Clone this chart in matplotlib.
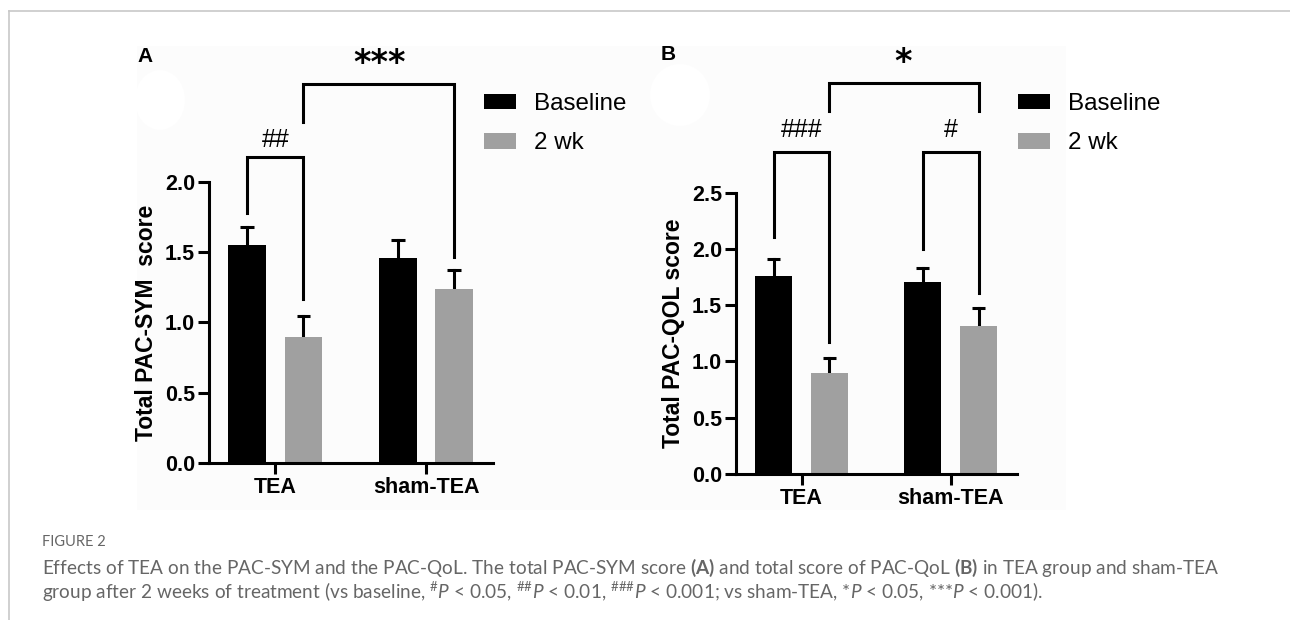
import numpy as np
import matplotlib
matplotlib.use("Agg")
import matplotlib.pyplot as plt
from matplotlib.patches import Rectangle, Ellipse

# ---- data ----
groups = ["TEA", "sham-TEA"]
series = ["Baseline", "2 wk"]

sym_base = [1.55, 1.46]
sym_base_err = [0.13, 0.127]
sym_2wk = [0.90, 1.24]
sym_2wk_err = [0.147, 0.135]

qol_base = [1.76, 1.71]
qol_base_err = [0.15, 0.12]
qol_2wk = [0.895, 1.316]
qol_2wk_err = [0.133, 0.157]

colors = ["#000000", "#a0a0a0"]

plt.rcParams["font.family"] = ["Liberation Sans", "DejaVu Sans"]
plt.rcParams["mathtext.fontset"] = "custom"
plt.rcParams["mathtext.rm"] = "Lato"
plt.rcParams["mathtext.it"] = "Lato:italic"
plt.rcParams["mathtext.bf"] = "Lato:bold"

W, H = 1290, 620
fig = plt.figure(figsize=(W / 100, H / 100), dpi=100)


def fx(px):
    return px / W


def fy(py):
    return 1 - py / H


# page frame lines and the faint image backdrop
fig.add_artist(plt.Line2D([fx(9), 1], [fy(11), fy(11)], color="#c8c8c8", lw=1.2))
fig.add_artist(plt.Line2D([fx(9), fx(9)], [fy(11), 0], color="#c8c8c8", lw=1.2))
fig.add_artist(Rectangle((fx(137), fy(510)), fx(1066) - fx(137), fy(46) - fy(510),
                         facecolor="#fcfcfc", edgecolor="none", zorder=0))
fig.add_artist(Ellipse((fx(160), fy(100)), fx(50), 60 / H, facecolor="white", edgecolor="none", zorder=0))
fig.add_artist(Ellipse((fx(680), fy(95)), fx(60), 62 / H, facecolor="white", edgecolor="none", zorder=0))

x = np.arange(len(groups))
bw = 0.25
off = 0.187
LW = 2.2
TICK_FS = 15.5


def up_errors(ax, xs, vals, errs):
    # one-sided (upward) error bars with a cap
    for xi, v, e in zip(xs, vals, errs):
        ax.plot([xi, xi], [v, v + e], color="black", lw=LW, zorder=1)
        ax.plot([xi - 0.045, xi + 0.045], [v + e, v + e], color="black", lw=LW,
                zorder=1, solid_capstyle="butt")


def panel(rect, base, base_err, wk, wk_err, ymax, ylabel):
    ax = fig.add_axes(rect)
    ax.set_facecolor("none")
    b1 = ax.bar(x - off, base, bw, color=colors[0], label=series[0], zorder=2)
    b2 = ax.bar(x + off, wk, bw, color=colors[1], label=series[1], zorder=2)
    up_errors(ax, x - off, base, base_err)
    up_errors(ax, x + off, wk, wk_err)
    ticks = np.arange(0, ymax + 0.01, 0.5)
    ax.set_ylim(0, ymax)
    ax.set_yticks(ticks)
    ax.set_yticklabels([f"{t:.1f}" for t in ticks])
    ax.set_xlim(-0.44, 1.445)
    ax.set_xticks(x)
    ax.set_xticklabels(groups)
    for s in ["top", "right"]:
        ax.spines[s].set_visible(False)
    for s in ["left", "bottom"]:
        ax.spines[s].set_linewidth(LW)
    ax.tick_params(width=LW, length=8, labelsize=TICK_FS, pad=2)
    for t in ax.get_xticklabels() + ax.get_yticklabels():
        t.set_fontweight("bold")
    ax.set_ylabel(ylabel, fontsize=16.5, fontweight="bold", labelpad=5)
    return ax, b1, b2


def bracket(ax, x1, x2, y1, y2, top):
    ax.plot([x1, x1, x2, x2], [y1, top, top, y2], color="black", lw=LW,
            clip_on=False, solid_joinstyle="miter")


def hashes(ax, xc, y, label):
    ax.text(xc, y, label, ha="center", va="center", fontsize=18, clip_on=False)


def stars(ax, xc, y, label):
    ax.text(xc, y, label, ha="center", va="baseline", fontsize=24, fontweight="bold",
            family="DejaVu Sans", clip_on=False)


# ---- panel A ----
axA, b1, b2 = panel([fx(209), fy(463), fx(493) - fx(209), fy(182) - fy(463)],
                    sym_base, sym_base_err, sym_2wk, sym_2wk_err, 2.0,
                    "Total PAC-SYM  score")
bracket(axA, -off, off, 1.78, 1.167, 2.178)
hashes(axA, 0, 2.30, "##")
bracket(axA, off, 1 + off, 2.427, 1.466, 2.70)
stars(axA, 0.695, 2.775, "***")
axA.legend(handles=[b1, b2], loc="upper left", bbox_to_anchor=(fx(484), fy(93)),
           bbox_transform=fig.transFigure, frameon=False, fontsize=17.4,
           handlelength=1.33, handleheight=0.63, handletextpad=0.75,
           labelspacing=0.72, borderpad=0, borderaxespad=0)

# ---- panel B ----
axB, c1, c2 = panel([fx(736), fy(474), fx(1017) - fx(736), fy(192.7) - fy(474)],
                    qol_base, qol_base_err, qol_2wk, qol_2wk_err, 2.5,
                    "Total PAC-QOL score")
bracket(axB, -off, off, 2.104, 1.176, 2.859)
hashes(axB, 0, 3.06, "###")
bracket(axB, 1 - off, 1 + off, 1.997, 1.606, 2.859)
hashes(axB, 1, 3.06, "#")
bracket(axB, off, 1 + off, 3.229, 3.229, 3.478)
stars(axB, 0.68, 3.57, "*")
axB.legend(handles=[c1, c2], loc="upper left", bbox_to_anchor=(fx(1018), fy(93)),
           bbox_transform=fig.transFigure, frameon=False, fontsize=17.4,
           handlelength=1.33, handleheight=0.63, handletextpad=0.75,
           labelspacing=0.72, borderpad=0, borderaxespad=0)

fig.text(fx(137), fy(57), "A", fontsize=15, fontweight="bold", va="center")
fig.text(fx(661), fy(55), "B", fontsize=15, fontweight="bold", va="center")

# ---- caption ----
cap = "#666666"
fig.text(fx(42), fy(542), "FIGURE 2", fontsize=10.5, color=cap, family="Lato", va="center")
fig.text(fx(42), fy(568),
         r"Effects of TEA on the PAC-SYM and the PAC-QoL. The total PAC-SYM score $\mathbf{(A)}$ and total score of PAC-QoL $\mathbf{(B)}$ in TEA group and sham-TEA",
         fontsize=13.7, color=cap, family="Lato", va="center")
fig.text(fx(42), fy(592),
         r"group after 2 weeks of treatment (vs baseline, $^{\#}P$ < 0.05, $^{\#\#}P$ < 0.01, $^{\#\#\#}P$ < 0.001; vs sham-TEA, *$P$ < 0.05, ***$P$ < 0.001).",
         fontsize=13.7, color=cap, family="Lato", va="center")

fig.savefig("out.png", dpi=100)
